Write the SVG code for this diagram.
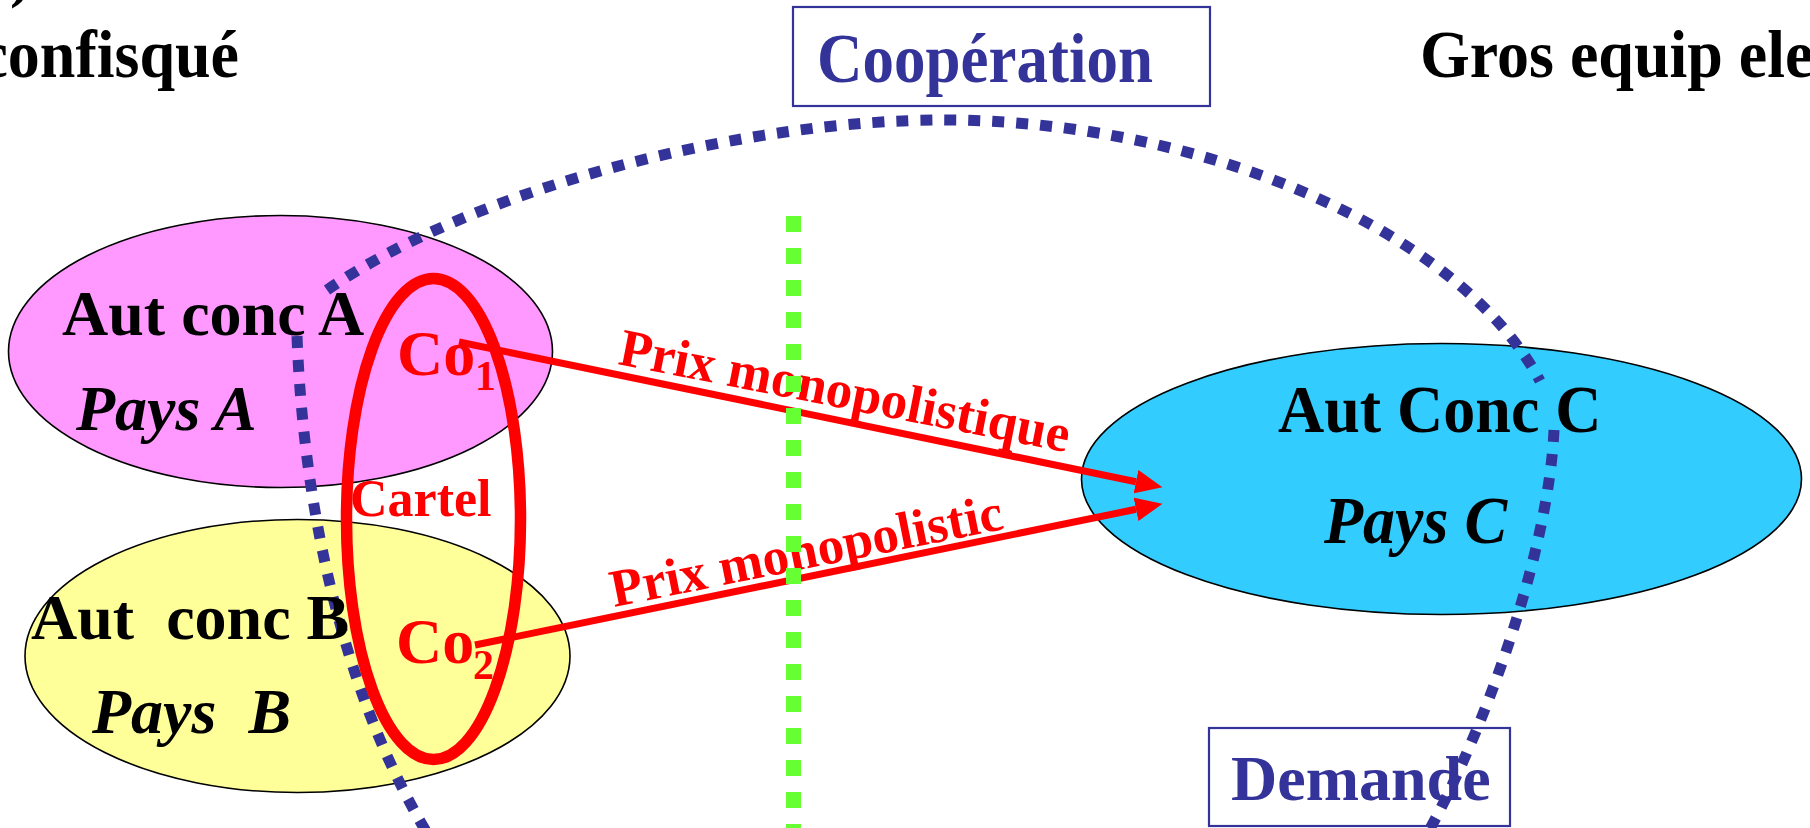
<svg xmlns="http://www.w3.org/2000/svg" width="1810" height="828" viewBox="0 0 1810 828">
<defs>
<style>
.t{font-family:"Liberation Serif","Times New Roman",serif;font-weight:bold;font-size:64px;}
.it{font-style:italic;}
.blk{fill:#000;}
.red{fill:#ff0000;}
.navy{fill:#333399;}
.node{stroke:#000;stroke-width:1.6;}
.dots{fill:none;stroke:#333399;stroke-width:11;stroke-dasharray:12 12;}
.arrow{fill:none;stroke:#ff0000;stroke-width:7;marker-end:url(#ah);}
.box{fill:#fff;stroke:#333399;stroke-width:2.2;}
</style>
<marker id="ah" markerUnits="userSpaceOnUse" markerWidth="28" markerHeight="26" viewBox="0 0 28 26" refX="0" refY="13" orient="auto">
<path d="M0,1 L27,13 L0,25 z" fill="#ff0000"/>
</marker>
</defs>
<rect width="1810" height="828" fill="#fff"/>

<g id="title-left">
<text class="t blk" x="10" y="-5">)</text>
<text class="t blk" transform="translate(239 77) scale(1 1.06)" x="0" y="0" text-anchor="end">confisqué</text>
</g>
<g id="title-right">
<text class="t blk" transform="translate(1420 77) scale(1 1.06)" x="0" y="0">Gros equip ele</text>
</g>

<g id="node-A">
<ellipse class="node" cx="280.5" cy="351.5" rx="272" ry="136" fill="#ff99ff"/>
</g>
<g id="node-B">
<ellipse class="node" cx="297.5" cy="656" rx="272.5" ry="136.5" fill="#ffff99"/>
</g>
<g id="node-C">
<ellipse class="node" cx="1441.5" cy="479" rx="360" ry="135.5" fill="#33ccff"/>
</g>

<g id="boundaries">
<path class="dots" d="M327,290 C480,185 750,120 943,120 C1200,120 1460,230 1540,381"/>
<path class="dots" d="M297,336 C303,500 340,690 430,838"/>
<path class="dots" d="M1554,430 C1548,560 1480,740 1425,838"/>
</g>

<g id="cartel">
<ellipse cx="433.5" cy="519" rx="87" ry="240.5" fill="none" stroke="#ff0000" stroke-width="11.5"/>
<text class="t red" x="350" y="516" style="font-size:52px">Cartel</text>
</g>

<g id="node-labels">
<text class="t blk" x="62" y="335">Aut conc A</text>
<text class="t blk it" x="76" y="430">Pays A</text>
<text class="t blk" x="31" y="639" xml:space="preserve">Aut  conc B</text>
<text class="t blk it" x="92" y="733" xml:space="preserve">Pays  B</text>
<text class="t blk" transform="translate(1278 432) scale(1 1.05)" x="0" y="0">Aut Conc C</text>
<text class="t blk it" transform="translate(1324 543) scale(1 1.05)" x="0" y="0">Pays C</text>
</g>

<g id="co1">
<text class="t red" x="397" y="375">Co<tspan x="475" y="390" style="font-size:42px">1</tspan></text>
</g>
<g id="co2">
<text class="t red" x="396" y="663">Co<tspan x="473" y="679" style="font-size:42px">2</tspan></text>
</g>

<g id="connectors">
<path class="arrow" d="M459,342 L1136,481.7"/>
<path class="arrow" d="M475,645 L1136,509.3"/>
<text class="t red" x="617" y="364" style="font-size:53px" transform="rotate(11.1 617 364)">Prix monopolistique</text>
<text class="t red" x="614" y="607" style="font-size:53px" transform="rotate(-11.3 614 607)">Prix monopolistic</text>
</g>

<g id="divider">
<line x1="793.5" y1="216" x2="793.5" y2="828" stroke="#66ff33" stroke-width="15" stroke-dasharray="16 16"/>
</g>

<g id="cooperation">
<rect class="box" x="793" y="7" width="417" height="99"/>
<text class="t navy" transform="translate(817 82) scale(1 1.12)" x="0" y="0" style="font-size:63px">Coopération</text>
</g>

<g id="demande">
<rect class="box" x="1209" y="728" width="301" height="98" style="fill:none"/>
<text class="t navy" x="1231" y="800">Demande</text>
</g>
</svg>
